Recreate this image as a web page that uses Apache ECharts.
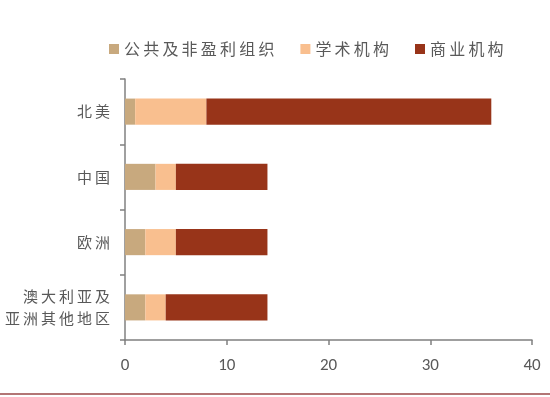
<!DOCTYPE html>
<html>
<head>
<meta charset="utf-8">
<script src="https://cdn.jsdelivr.net/npm/echarts@6/dist/echarts.min.js"></script>
<style>
  html, body { margin: 0; padding: 0; background: #fff; }
  #chart { width: 550px; height: 397px; }
</style>
</head>
<body>
<div id="chart"></div>
<script>
// 地区（自下而上）
var regions = ['澳大利亚及\n亚洲其他地区', '欧洲', '中国', '北美'];
var seriesNames = ['公共及非盈利组织', '学术机构', '商业机构'];
var publicOrg = [2, 2, 3, 1];
var academic = [2, 3, 2, 7];
var commercial = [10, 9, 9, 28];
var xTicks = [0, 10, 20, 30, 40];
var colors = ['#C8A97E', '#F9BF8F', '#983419'];

var cjk = '"Noto Sans CJK SC", sans-serif';
var myChart = echarts.init(document.getElementById('chart'));

// 原图中文字间距较宽，用细空格撑开
var spread = function(s) {
	return s.split('\n').map(function(line) {
		return line.split('').join('\u2009');
	}).join('\n');
};

var values = [publicOrg, academic, commercial];
var series = [];
for (var i = 0; i < seriesNames.length; i++) {
	series.push({
		name: seriesNames[i],
		type: 'bar',
		stack: 'total',
		barWidth: '40%',
		itemStyle: { color: colors[i] },
		data: values[i]
	});
}

myChart.setOption({
	animation: false,
	color: colors,
	legend: {
		top: 36,
		left: 104,
		itemWidth: 10,
		itemHeight: 10,
		itemGap: 26,
		icon: 'rect',
		formatter: spread,
		textStyle: { fontFamily: cjk, fontSize: 16, color: '#595959' },
		data: seriesNames
	},
	grid: { left: 125, right: 18, top: 79, bottom: 57 },
	xAxis: {
		type: 'value',
		min: xTicks[0],
		max: xTicks[xTicks.length - 1],
		interval: 10,
		splitLine: { show: false },
		axisLine: { show: true, lineStyle: { color: '#808080', width: 1.5 } },
		axisTick: { show: true, length: 5, lineStyle: { color: '#808080', width: 1.5 } },
		axisLabel: { margin: 17, fontSize: 17, color: '#595959', fontFamily: 'Carlito, "Open Sans", sans-serif' }
	},
	yAxis: {
		type: 'category',
		data: regions,
		axisLine: { show: true, lineStyle: { color: '#808080', width: 1.5 } },
		axisTick: { show: true, length: 5, lineStyle: { color: '#808080', width: 1.5 } },
		axisLabel: { margin: 15, fontSize: 15, lineHeight: 22, color: '#595959', fontFamily: cjk, formatter: spread }
	},
	graphic: [{
		type: 'line',
		shape: { x1: 0, y1: 394, x2: 550, y2: 394 },
		style: { stroke: '#B37575', lineWidth: 2 }
	}],
	series: series
});
</script>
</body>
</html>
